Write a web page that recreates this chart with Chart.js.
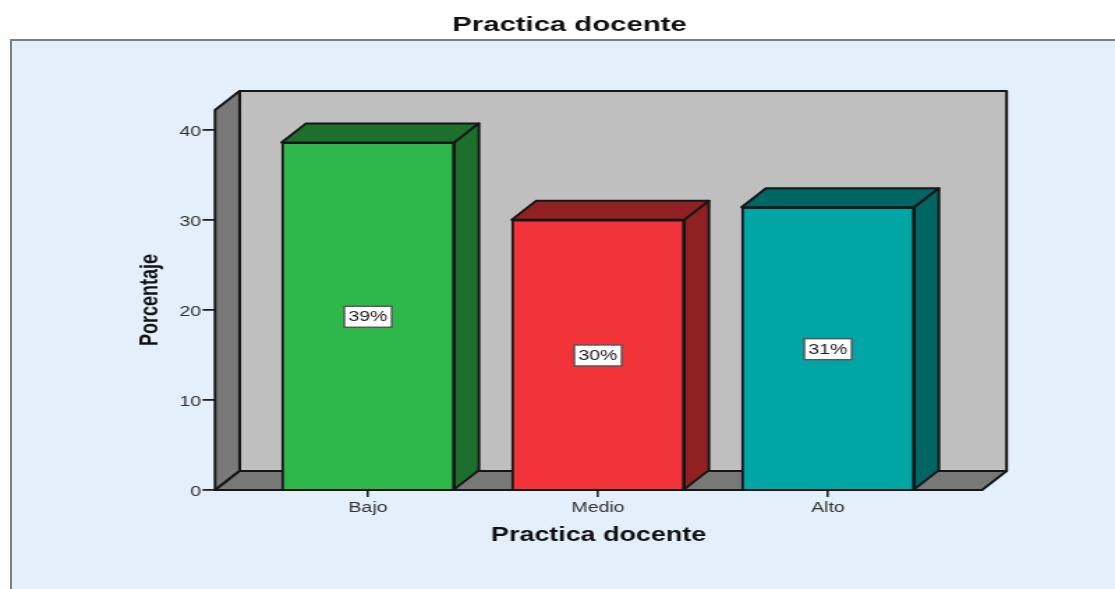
<!DOCTYPE html>
<html>
<head>
<meta charset="utf-8">
<title>Practica docente</title>
<script src="https://cdn.jsdelivr.net/npm/chart.js@4"></script>
<style>
html,body{margin:0;padding:0;background:#fff;overflow:hidden;width:1115px;height:589px}
#panel{position:absolute;left:10px;top:39px;width:1110px;height:560px;background:#e3effb;border-left:2px solid #7f7f7f;border-top:2px solid #7f7f7f}
/* chart is laid out narrow and widened, the whole graphic has wide lettering */
#myChart{position:absolute;left:0;top:0;transform-origin:0 0;transform:scaleX(1.39375)}
</style>
</head>
<body>
<div id="panel"></div>
<canvas id="myChart" width="800" height="589"></canvas>
<script>
const chartTitle = 'Practica docente'
const axisTitleX = 'Practica docente'
const axisTitleY = 'Porcentaje'
const categories = ['Bajo', 'Medio', 'Alto']
// percentages, the box on each bar shows them rounded to a whole number
const percentages = [38.6, 30.0, 31.4]
const yTicksMax = 42.2
const positions = [1, 2, 3]

const frontColors = ['#2fb84a', '#f2333a', '#00a6a5']
const shadeColors = ['#1c6f2d', '#912023', '#006663']
const lineColor = '#161616'
const wallColor = '#bfbfbf'
const floorColor = '#787878'

// depth of the box and of the bars
const depthX = 17.6
const depthY = 19

function poly(ctx, pts, fill){
  ctx.beginPath()
  ctx.moveTo(pts[0][0], pts[0][1])
  for(let i=1;i<pts.length;i++) ctx.lineTo(pts[i][0], pts[i][1])
  ctx.closePath()
  ctx.fillStyle = fill
  ctx.fill()
  ctx.lineWidth = 2
  ctx.strokeStyle = lineColor
  ctx.stroke()
}

// back wall, side wall and floor, then top and side of every bar
const box3d = {
  id:'box3d',
  beforeDatasetsDraw(chart){
    const ctx = chart.ctx
    const a = chart.chartArea
    ctx.save()
    ctx.lineJoin = 'round'
    poly(ctx, [[a.left+depthX,a.top-depthY],[a.right+depthX,a.top-depthY],[a.right+depthX,a.bottom-depthY],[a.left+depthX,a.bottom-depthY]], wallColor)
    poly(ctx, [[a.left,a.top],[a.left+depthX,a.top-depthY],[a.left+depthX,a.bottom-depthY],[a.left,a.bottom]], floorColor)
    poly(ctx, [[a.left,a.bottom],[a.left+depthX,a.bottom-depthY],[a.right+depthX,a.bottom-depthY],[a.right,a.bottom]], floorColor)
    chart.getDatasetMeta(0).data.forEach((bar,i)=>{
      const l = bar.x-bar.width/2
      const r = bar.x+bar.width/2
      poly(ctx, [[l,bar.y],[l+depthX,bar.y-depthY],[r+depthX,bar.y-depthY],[r,bar.y]], shadeColors[i])
      poly(ctx, [[r,bar.y],[r+depthX,bar.y-depthY],[r+depthX,bar.base-depthY],[r,bar.base]], shadeColors[i])
    })
    ctx.restore()
  },
  afterDatasetsDraw(chart){
    const ctx = chart.ctx
    ctx.save()
    ctx.font = '14px "Liberation Sans", Arial, sans-serif'
    ctx.textAlign = 'center'
    ctx.textBaseline = 'middle'
    chart.getDatasetMeta(0).data.forEach((bar,i)=>{
      const cy = (bar.y+bar.base)/2 + 1
      ctx.fillStyle = '#ffffff'
      ctx.strokeStyle = '#555555'
      ctx.lineWidth = 1.4
      ctx.fillRect(bar.x-17, cy-10.5, 34, 21)
      ctx.strokeRect(bar.x-17, cy-10.5, 34, 21)
      ctx.fillStyle = '#222222'
      ctx.fillText(Math.round(percentages[i])+'%', bar.x, cy+0.5)
    })
    // chart heading sits a bit left of the plot centre
    ctx.font = 'bold 21px "Liberation Sans", Arial, sans-serif'
    ctx.fillStyle = '#111111'
    ctx.fillText(chartTitle, 408.6, 25)
    ctx.restore()
  }
}

const myChart = new Chart(document.getElementById('myChart'), {
  type:'bar',
  data:{
    datasets:[{
      data: percentages.map((v,i)=>({x:positions[i], y:v})),
      backgroundColor: frontColors,
      borderColor: lineColor,
      borderWidth: 2,
      barThickness: 124
    }]
  },
  plugins:[box3d],
  options:{
    responsive:false,
    animation:false,
    layout:{autoPadding:false, padding:{left:96.8, right:95.4, top:110, bottom:40}},
    plugins:{legend:{display:false}, tooltip:{enabled:false}, title:{display:false}},
    scales:{
      x:{
        type:'linear',
        offset:false,
        min:0.335,
        max:3.67,
        afterFit(s){ s.height = 59 },
        border:{display:false},
        grid:{offset:false, drawOnChartArea:false, tickLength:7, tickColor:'#222222', lineWidth:1.6},
        ticks:{
          stepSize:1,
          includeBounds:false,
          padding:3,
          maxRotation:0,
          color:'#333333',
          font:{family:'"Liberation Sans", Arial, sans-serif', size:14},
          callback:(v)=>categories[v-1]
        },
        title:{
          display:true,
          text:axisTitleX,
          color:'#111111',
          padding:{top:0, bottom:2},
          font:{family:'"Liberation Sans", Arial, sans-serif', size:19.3, weight:'bold'}
        }
      },
      y:{
        min:0,
        max:yTicksMax,
        afterFit(s){ s.width = 57.5 },
        border:{display:false},
        grid:{drawOnChartArea:false, tickLength:9, tickColor:'#222222', lineWidth:1.8},
        ticks:{
          stepSize:10,
          includeBounds:false,
          padding:1,
          labelOffset:2,
          color:'#333333',
          font:{family:'"Liberation Sans", Arial, sans-serif', size:14}
        },
        title:{
          display:true,
          text:axisTitleY,
          color:'#111111',
          padding:0,
          font:{family:'"Liberation Sans", Arial, sans-serif', size:18, weight:'bold'}
        }
      }
    }
  }
})
</script>
</body>
</html>
